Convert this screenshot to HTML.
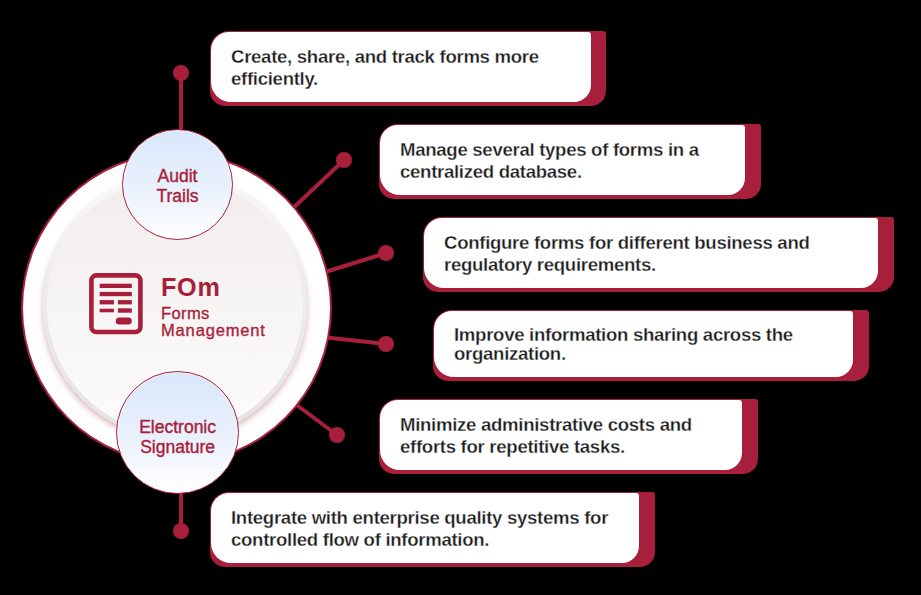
<!DOCTYPE html>
<html><head><meta charset="utf-8">
<style>
html,body{margin:0;padding:0;}
body{width:921px;height:595px;background:#000;position:relative;overflow:hidden;font-family:"Liberation Sans",sans-serif;}
.abs{position:absolute;}
.red{background:#A81F3C;}
.card{position:absolute;}
.card .bg{position:absolute;left:0;top:0;right:0;bottom:0;background:#A81F3C;border-radius:19px 3px 15px 15px;}
.card .fg{position:absolute;left:1px;top:1px;background:#fff;border-radius:18px 3px 17px 20px;}
.txt{position:absolute;font-size:18.6px;letter-spacing:-0.3px;line-height:22px;font-weight:bold;color:#1c1c1c;white-space:nowrap;-webkit-text-stroke:0.28px #fff;}
.big{position:absolute;left:20.9px;top:151.6px;width:307.4px;height:308.6px;border-radius:50%;background:#fff;border:2px solid #A81F3C;}
.inner{position:absolute;left:42.7px;top:173.9px;width:264.4px;height:264.4px;border-radius:50%;
  background:linear-gradient(180deg,#F9F8F8 0%,#ECEBEB 50%,#E4E3E3 100%);box-shadow:0 3px 6px rgba(150,60,75,0.4);}
.inner2{position:absolute;left:46.7px;top:177.9px;width:256.4px;height:256.4px;border-radius:50%;
  background:linear-gradient(180deg,#F2EDED 0%,#F7F4F4 50%,#FDFBFB 100%);}
.sm{position:absolute;border-radius:50%;box-sizing:border-box;border:1.75px solid #A81F3C;box-shadow:inset 0 0 0 1px rgba(255,255,255,0.7);
  background:linear-gradient(180deg,#D9E7FB 0%,#E8F0FC 50%,#FFFFFF 100%);}
.ctext{position:absolute;color:#A81F3C;font-size:17.5px;font-weight:normal;-webkit-text-stroke:0.4px #A81F3C;line-height:20px;text-align:center;white-space:nowrap;}
</style></head><body>

<svg class="abs" style="left:0;top:0" width="921" height="595" viewBox="0 0 921 595">
  <g stroke="#A81F3C" stroke-width="4" fill="none">
    <line x1="181" y1="73" x2="181" y2="140"/>
    <line x1="344" y1="160" x2="290" y2="211"/>
    <line x1="386" y1="253" x2="322" y2="273"/>
    <line x1="386" y1="344" x2="322" y2="337"/>
    <line x1="337" y1="435" x2="294" y2="403"/>
    <line x1="181" y1="531" x2="181" y2="485"/>
  </g>
  <g fill="#A81F3C">
    <circle cx="181" cy="73" r="8"/>
    <circle cx="344" cy="160" r="8"/>
    <circle cx="386" cy="253" r="8"/>
    <circle cx="386" cy="344" r="8"/>
    <circle cx="337" cy="435" r="8"/>
    <circle cx="181" cy="531" r="8"/>
  </g>
</svg>

<div class="big"></div>
<div class="inner"></div>
<div class="inner2"></div>

<!-- icon -->
<svg class="abs" style="left:0;top:0" width="921" height="595" viewBox="0 0 921 595">
  <rect x="91.4" y="275.4" width="49" height="56.6" rx="5" ry="5" fill="none" stroke="#A81F3C" stroke-width="4.6"/>
  <g fill="#A81F3C">
    <rect x="99.7" y="283.7" width="32.1" height="4.3"/>
    <rect x="99.7" y="291.9" width="32.1" height="4.3"/>
    <rect x="99.7" y="300.1" width="14.2" height="4.3"/>
    <rect x="117.9" y="300.1" width="13.9" height="4.3"/>
    <rect x="99.7" y="308.7" width="14.2" height="3.6"/>
    <rect x="117.9" y="308.3" width="13.9" height="4.4"/>
    <rect x="115.7" y="317.6" width="16.1" height="7" rx="3.5" ry="3.5"/>
  </g>
</svg>
<div class="ctext" style="left:161px;top:273.1px;font-size:25.2px;line-height:28px;text-align:left;font-weight:bold;-webkit-text-stroke:0px;letter-spacing:0.7px">FOm</div>
<div class="ctext" style="left:161px;top:304.7px;font-size:16.5px;line-height:17.7px;font-weight:normal;text-align:left;-webkit-text-stroke:0.35px #A81F3C"><span style="letter-spacing:0.4px">Forms</span><br><span style="letter-spacing:0.85px">Management</span></div>

<div class="sm" style="left:121.85px;top:128.9px;width:111.3px;height:111.3px"></div>
<div class="ctext" style="left:121.85px;top:165.7px;width:111.3px">Audit<br>Trails</div>
<div class="sm" style="left:116px;top:370.9px;width:123.2px;height:123.2px"></div>
<div class="ctext" style="left:116px;top:416.6px;width:123.2px">Electronic<br>Signature</div>

<!-- cards -->
<div class="card" style="left:210px;top:31px;width:396px;height:75px"><div class="bg"></div><div class="fg" style="width:380px;height:70px"></div></div>
<div class="txt" style="left:231px;top:45.55px">Create, share, and track forms more<br>efficiently.</div>

<div class="card" style="left:379px;top:124px;width:382px;height:75px"><div class="bg"></div><div class="fg" style="width:365px;height:70px"></div></div>
<div class="txt" style="left:400px;top:138.55px">Manage several types of forms in a<br>centralized database.</div>

<div class="card" style="left:423px;top:217px;width:471px;height:75px"><div class="bg"></div><div class="fg" style="width:454px;height:70px"></div></div>
<div class="txt" style="left:444px;top:231.55px">Configure forms for different business and<br>regulatory requirements.</div>

<div class="card" style="left:433px;top:310px;width:436px;height:71px"><div class="bg"></div><div class="fg" style="width:419px;height:66px"></div></div>
<div class="txt" style="left:454px;top:324.6px;line-height:19.7px">Improve information sharing across the<br>organization.</div>

<div class="card" style="left:379px;top:399px;width:379px;height:75px"><div class="bg"></div><div class="fg" style="width:362px;height:70px"></div></div>
<div class="txt" style="left:400px;top:413.55px">Minimize administrative costs and<br>efforts for repetitive tasks.</div>

<div class="card" style="left:210px;top:492px;width:445px;height:75px"><div class="bg"></div><div class="fg" style="width:428px;height:70px"></div></div>
<div class="txt" style="left:231px;top:506.55px">Integrate with enterprise quality systems for<br>controlled flow of information.</div>

</body></html>
